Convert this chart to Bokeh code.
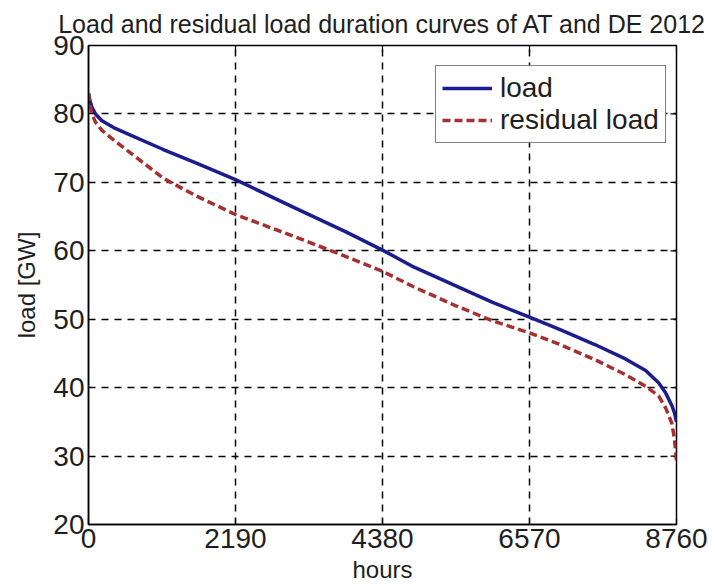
import math
from bokeh.plotting import figure
from bokeh.models import Range1d, FixedTicker, Legend, LegendItem
from bokeh.embed import file_html
from bokeh.resources import INLINE

hours = [0, 20, 50, 104, 200, 374, 600, 1114, 1608, 2190, 3088, 3828, 4380,
         4851, 5464, 6012, 6570, 7000, 7543, 8000, 8300, 8493, 8600, 8690, 8730, 8760]
load = [83.0, 82.0, 81.0, 80.0, 79.0, 78.0, 77.0, 74.8, 72.8, 70.4, 66.2, 62.8, 60.1,
        57.6, 54.9, 52.5, 50.3, 48.6, 46.3, 44.2, 42.5, 40.7, 39.2, 37.4, 36.3, 35.0]
residual = [83.0, 81.5, 80.0, 78.8, 77.6, 76.2, 74.5, 70.6, 68.0, 65.3, 62.0, 59.2, 57.0,
            54.7, 52.0, 49.8, 48.0, 46.4, 44.1, 41.9, 40.2, 38.8, 37.0, 34.8, 32.5, 29.3]

x_ticks = [0, 2190, 4380, 6570, 8760]
y_ticks = [20, 30, 40, 50, 60, 70, 80, 90]

FONT = "Liberation Sans"
TXT = "#1e1e1e"

p = figure(width=714, height=586, output_backend="svg", toolbar_location=None,
           x_range=Range1d(x_ticks[0], x_ticks[-1]), y_range=Range1d(y_ticks[0], y_ticks[-1]),
           min_border_left=88, min_border_right=38, min_border_top=0, min_border_bottom=62,
           title="Load and residual load duration curves of AT and DE 2012")
p.title.align = "center"
p.title.text_font = FONT
p.title.text_font_size = "25px"
p.title.text_font_style = "normal"
p.title.text_color = TXT
p.title.offset = -3
p.title.standoff = 15

p.background_fill_color = "white"
p.border_fill_color = "white"
p.outline_line_color = "black"
p.outline_line_width = 1.5

for ax in (p.xaxis[0], p.yaxis[0]):
    ax.major_label_text_font = FONT
    ax.major_label_text_font_size = "28px"
    ax.major_label_text_color = TXT
    ax.axis_label_text_font = FONT
    ax.axis_label_text_font_size = "24px"
    ax.axis_label_text_font_style = "normal"
    ax.axis_label_text_color = TXT
    ax.major_tick_in = 6
    ax.major_tick_out = 0
    ax.minor_tick_line_color = None
    ax.axis_line_color = "black"
    ax.axis_line_width = 1.5
    ax.major_tick_line_width = 1.2

p.xaxis.ticker = FixedTicker(ticks=x_ticks)
p.yaxis.ticker = FixedTicker(ticks=y_ticks)
p.xaxis.axis_label = "hours"
p.yaxis.axis_label = "load [GW]"
p.xaxis.major_label_standoff = 4
p.yaxis.major_label_standoff = 4
p.xaxis.axis_label_standoff = 5
p.yaxis.axis_label_standoff = 10

# inward ticks on the top and right frame edges (box on)
p.ray(x=x_ticks, y=[y_ticks[-1]] * len(x_ticks), length=6, length_units="screen",
      angle=-math.pi / 2, line_color="black", line_width=1.2)
p.ray(x=[x_ticks[-1]] * len(y_ticks), y=y_ticks, length=6, length_units="screen",
      angle=math.pi, line_color="black", line_width=1.2)

p.xgrid.ticker = FixedTicker(ticks=x_ticks[1:-1])
p.ygrid.ticker = FixedTicker(ticks=y_ticks[1:-1])
for g in (p.xgrid[0], p.ygrid[0]):
    g.grid_line_color = "black"
    g.grid_line_dash = "7 6"
    g.grid_line_width = 1.5
    g.grid_line_alpha = 1.0

r1 = p.line(hours, load, line_color="#1c1c8c", line_width=3.5)
r2 = p.line(hours, residual, line_color="#a5302f", line_width=3.5, line_dash="8 4")

legend = Legend(items=[LegendItem(label="load", renderers=[r1]),
                       LegendItem(label="residual load", renderers=[r2])],
                location=(347, 381))
legend.label_text_font = FONT
legend.label_text_font_size = "28px"
legend.label_text_color = TXT
legend.glyph_width = 50
legend.glyph_height = 30
legend.label_height = 30
legend.label_standoff = 8
legend.spacing = 0
legend.padding = 6
legend.margin = 0
legend.border_line_color = "black"
legend.border_line_width = 1.5
legend.background_fill_alpha = 1.0
p.add_layout(legend)

open("out.html", "w").write(file_html(p, INLINE))
